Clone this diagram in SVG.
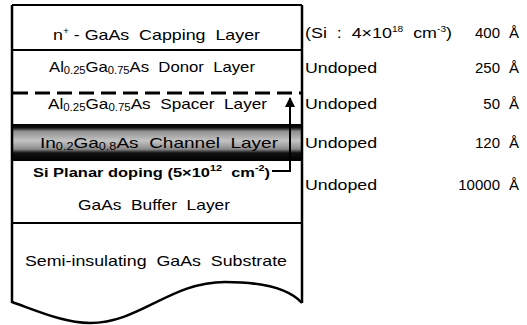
<svg xmlns="http://www.w3.org/2000/svg" width="527" height="325" viewBox="0 0 527 325">
<defs>
<style>
.t{font-family:"Liberation Sans",Arial,sans-serif;font-size:15px;fill:#000}
.b{font-weight:bold;font-size:13px}
.sub{font-size:10px}
.sup{font-size:8.5px}
.ln{stroke:#000;stroke-width:2;fill:none}
.bd{stroke:#000;stroke-width:2.5;fill:none}
</style>
<linearGradient id="ch" x1="0" y1="0" x2="0" y2="1">
<stop offset="0" stop-color="#000"/>
<stop offset="0.1" stop-color="#111"/>
<stop offset="0.2" stop-color="#8f8f8f"/>
<stop offset="0.45" stop-color="#c4c4c4"/>
<stop offset="0.68" stop-color="#8a8a8a"/>
<stop offset="0.78" stop-color="#111"/>
<stop offset="1" stop-color="#000"/>
</linearGradient>
<marker id="ah" viewBox="0 0 10 10" refX="9" refY="5" markerWidth="13" markerHeight="10" orient="auto" markerUnits="userSpaceOnUse">
<path d="M0,0 L10,5 L0,10 Z" fill="#000"/>
</marker>
</defs>
<rect width="527" height="325" fill="#fff"/>

<g id="capping">
<line class="ln" x1="12" y1="5" x2="302" y2="5"/>
<text class="t" xml:space="preserve" x="53" y="40" textLength="207" lengthAdjust="spacingAndGlyphs">n<tspan class="sup" dy="-6">+</tspan><tspan dy="6"> - GaAs  Capping  Layer</tspan></text>
<text class="t" xml:space="preserve" x="305" y="38" textLength="147" lengthAdjust="spacingAndGlyphs">(Si  :  4×10<tspan class="sup" dy="-6">18</tspan><tspan dy="6">  cm</tspan><tspan class="sup" dy="-6">-3</tspan><tspan dy="6">)</tspan></text>
<text class="t" x="500" y="38" text-anchor="end">400</text>
<text class="t" x="509" y="38">Å</text>
</g>

<g id="donor">
<line class="ln" x1="12" y1="50" x2="302" y2="50"/>
<text class="t" xml:space="preserve" x="49" y="72" textLength="206" lengthAdjust="spacingAndGlyphs">Al<tspan class="sub" dy="2">0.25</tspan><tspan dy="-2">Ga</tspan><tspan class="sub" dy="2">0.75</tspan><tspan dy="-2">As  Donor  Layer</tspan></text>
<text class="t" x="305" y="73" textLength="72" lengthAdjust="spacingAndGlyphs">Undoped</text>
<text class="t" x="500" y="73" text-anchor="end">250</text>
<text class="t" x="509" y="73">Å</text>
</g>

<g id="spacer">
<line x1="13" y1="93" x2="302" y2="93" stroke="#000" stroke-width="3" stroke-dasharray="15 7"/>
<text class="t" xml:space="preserve" x="48" y="109" textLength="219" lengthAdjust="spacingAndGlyphs">Al<tspan class="sub" dy="2">0.25</tspan><tspan dy="-2">Ga</tspan><tspan class="sub" dy="2">0.75</tspan><tspan dy="-2">As  Spacer  Layer</tspan></text>
<text class="t" x="305" y="109" textLength="72" lengthAdjust="spacingAndGlyphs">Undoped</text>
<text class="t" x="500" y="109" text-anchor="end">50</text>
<text class="t" x="509" y="109">Å</text>
</g>

<g id="channel">
<rect x="12" y="124" width="291" height="37" fill="url(#ch)"/>
<text class="t" xml:space="preserve" x="40" y="148" textLength="238" lengthAdjust="spacingAndGlyphs" font-size="16">In<tspan class="sub" dy="2" font-size="11">0.2</tspan><tspan dy="-2">Ga</tspan><tspan class="sub" dy="2" font-size="11">0.8</tspan><tspan dy="-2">As  Channel  Layer</tspan></text>
<text class="t" x="305" y="148" textLength="72" lengthAdjust="spacingAndGlyphs">Undoped</text>
<text class="t" x="500" y="148" text-anchor="end">120</text>
<text class="t" x="509" y="148">Å</text>
</g>

<g id="planar-doping">
<text class="t b" xml:space="preserve" x="33" y="177" textLength="237" lengthAdjust="spacingAndGlyphs">Si Planar doping (5×10<tspan class="sup" dy="-6">12</tspan><tspan dy="6">  cm</tspan><tspan class="sup" dy="-6">-2</tspan><tspan dy="6">)</tspan></text>
</g>

<g id="buffer">
<text class="t" xml:space="preserve" x="78" y="210" textLength="152" lengthAdjust="spacingAndGlyphs">GaAs  Buffer  Layer</text>
<line class="ln" x1="12" y1="223" x2="302" y2="223"/>
<text class="t" x="305" y="190" textLength="72" lengthAdjust="spacingAndGlyphs">Undoped</text>
<text class="t" x="500" y="190" text-anchor="end">10000</text>
<text class="t" x="509" y="190">Å</text>
</g>

<g id="substrate">
<text class="t" xml:space="preserve" x="25" y="266" textLength="262" lengthAdjust="spacingAndGlyphs">Semi-insulating  GaAs  Substrate</text>
<path class="bd" d="M12,302 C40,312 65,323 90,323 C140,323 170,282 225,282 C265,282 290,290 302,303"/>
</g>

<g id="outline">
<line class="bd" x1="12" y1="5" x2="12" y2="303"/>
<line class="bd" x1="302" y1="5" x2="302" y2="303"/>
</g>

<g id="connectors">
<polyline class="ln" points="272,171 290,171 290,98" marker-end="url(#ah)"/>
</g>
</svg>
